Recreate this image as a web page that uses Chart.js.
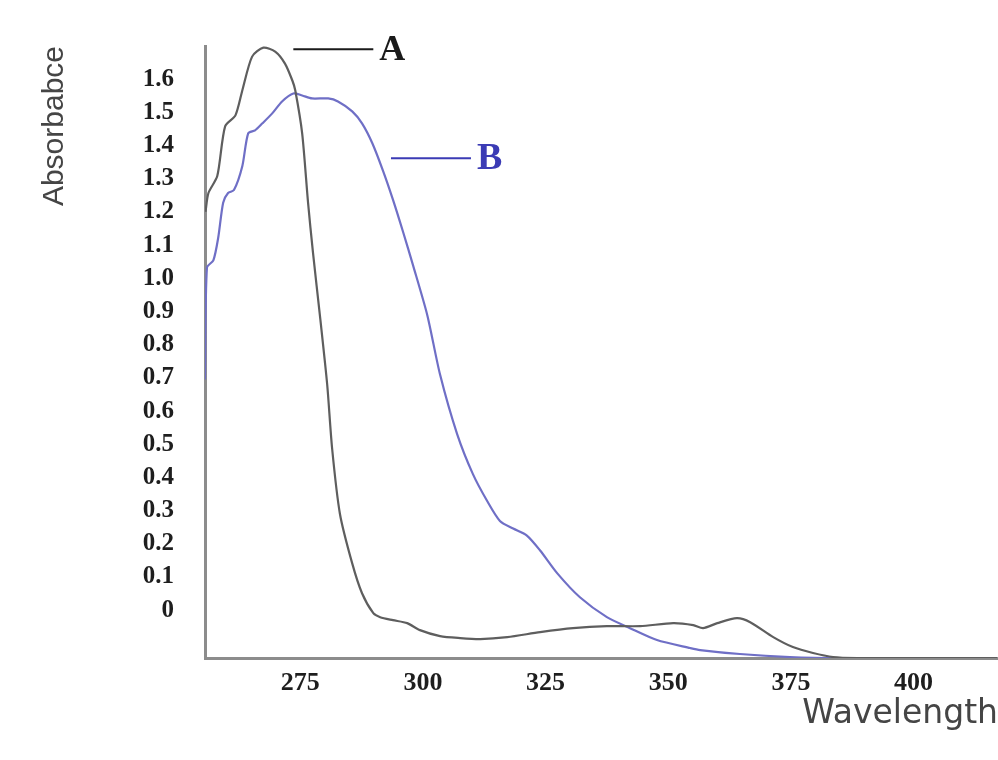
<!DOCTYPE html>
<html lang="en">
<head>
    <meta charset="UTF-8">
    <title>Absorbance spectra A and B</title>
    <style>
        body {
            margin: 0;
            background: #fff;
        }
        .chart-box {
            width: 998px;
            height: 760px;
        }
    </style>
</head>
<body>
    <div class="chart-box">
        <canvas id="spectrum"></canvas>
    </div>

    <script src="https://cdn.jsdelivr.net/npm/chart.js@4.4.1/dist/chart.umd.min.js"></script>
    <script>
        // wavelength (nm) / absorbance
        var wavelengthA = [255.7, 256.3, 258.1, 259.7, 261.8, 263.2, 265.2, 267.5, 269.9, 271.9,
            273.4, 274.0, 275.4, 276.6, 277.6, 279.1, 280.5, 281.5, 283.1, 285.6,
            287.6, 289.9, 291.3, 293.9, 296.8, 299.4, 303.5, 307.6, 311.7, 317.2,
            323.9, 330.6, 337.5, 344.3, 351.0, 355.1, 357.1, 360.0, 364.0, 366.7,
            371.4, 375.4, 379.5, 383.6, 388.5, 398.7, 417.0];
        var absorbanceA = [1.20, 1.257, 1.308, 1.458, 1.491, 1.566, 1.668, 1.695, 1.683, 1.647,
            1.596, 1.566, 1.437, 1.228, 1.078, 0.877, 0.680, 0.488, 0.290, 0.141,
            0.051, -0.009, -0.021, -0.030, -0.039, -0.060, -0.078, -0.084, -0.087, -0.081,
            -0.066, -0.054, -0.048, -0.048, -0.039, -0.045, -0.054, -0.039, -0.024, -0.036,
            -0.081, -0.111, -0.129, -0.141, -0.144, -0.144, -0.144];

        var wavelengthB = [255.6, 256.0, 257.3, 258.3, 259.3, 260.3, 261.5, 263.2, 264.4, 265.8,
            267.3, 269.3, 271.3, 273.6, 275.4, 277.4, 280.7, 282.7, 285.6, 287.6,
            289.7, 291.9, 293.9, 296.0, 298.0, 300.9, 303.5, 307.0, 310.2, 313.1,
            315.7, 318.4, 321.2, 323.9, 327.4, 332.0, 337.5, 342.2, 347.7, 354.5,
            356.5, 364.6, 374.8, 385.0, 417.0];
        var absorbanceB = [0.695, 1.033, 1.054, 1.123, 1.228, 1.257, 1.266, 1.338, 1.437, 1.446,
            1.467, 1.497, 1.533, 1.557, 1.551, 1.542, 1.542, 1.533, 1.503, 1.467,
            1.407, 1.323, 1.237, 1.138, 1.039, 0.889, 0.710, 0.530, 0.410, 0.329,
            0.269, 0.246, 0.225, 0.180, 0.111, 0.039, -0.021, -0.054, -0.090, -0.114,
            -0.120, -0.132, -0.141, -0.144, -0.144];

        var xTicks = [275, 300, 325, 350, 375, 400];
        var yTicks = [0, 0.1, 0.2, 0.3, 0.4, 0.5, 0.6, 0.7, 0.8, 0.9, 1.0, 1.1, 1.2, 1.3, 1.4, 1.5, 1.6];

        // curve labels: leader line from x1 to x2 at absorbance y, letter after it
        var curveLabels = ['A', 'B'];
        var labelX1 = [273.6, 293.5];
        var labelX2 = [289.9, 309.8];
        var labelY = [1.69, 1.362];

        function toPoints(xs, ys) {
            return xs.map(function (x, i) { return { x: x, y: ys[i] }; });
        }

        // draws the "——A" and "——B" markers next to the curves
        var curveLabelPlugin = {
            id: 'curveLabels',
            afterDatasetsDraw: function (chart) {
                var ctx = chart.ctx;
                var xs = chart.scales.x, ys = chart.scales.y;
                var colors = ['#1a1a1a', '#3b3bb5'];
                var sizes = [36, 38];
                ctx.save();
                curveLabels.forEach(function (txt, i) {
                    var x1 = xs.getPixelForValue(labelX1[i]);
                    var x2 = xs.getPixelForValue(labelX2[i]);
                    var y = ys.getPixelForValue(labelY[i]);
                    ctx.strokeStyle = colors[i];
                    ctx.lineWidth = 2;
                    ctx.beginPath();
                    ctx.moveTo(x1, y);
                    ctx.lineTo(x2, y);
                    ctx.stroke();
                    ctx.fillStyle = colors[i];
                    ctx.font = 'bold ' + sizes[i] + 'px "Liberation Serif", serif';
                    ctx.textBaseline = 'middle';
                    ctx.textAlign = 'left';
                    ctx.fillText(txt, x2 + 6, y + 1);
                });
                ctx.restore();
            }
        };

        var ctx = document.getElementById('spectrum').getContext('2d');
        var chart = new Chart(ctx, {
            type: 'line',
            data: {
                datasets: [
                    {
                        label: 'A',
                        data: toPoints(wavelengthA, absorbanceA),
                        borderColor: '#5e5e5e',
                        borderWidth: 2.2,
                        pointRadius: 0,
                        tension: 0.25,
                        fill: false
                    },
                    {
                        label: 'B',
                        data: toPoints(wavelengthB, absorbanceB),
                        borderColor: '#6f6fc6',
                        borderWidth: 2.2,
                        pointRadius: 0,
                        tension: 0.25,
                        fill: false
                    }
                ]
            },
            options: {
                responsive: true,
                maintainAspectRatio: false,
                animation: false,
                layout: { padding: { top: 43, left: 0, right: 0, bottom: 0 } },
                plugins: {
                    legend: { display: false },
                    tooltip: { enabled: false }
                },
                scales: {
                    x: {
                        type: 'linear',
                        min: 255.6,
                        max: 417.2,
                        grid: { display: false, drawTicks: false },
                        border: { display: true, color: '#8c8c8c', width: 3 },
                        afterBuildTicks: function (s) {
                            s.ticks = xTicks.map(function (v) { return { value: v }; });
                        },
                        afterFit: function (s) { s.height = 102; },
                        ticks: {
                            color: '#1e1e1e',
                            padding: 10,
                            maxRotation: 0,
                            autoSkip: false,
                            font: { family: '"Liberation Serif", serif', size: 26, weight: 'bold' },
                            callback: function (v) { return String(v); }
                        },
                        title: {
                            display: true,
                            text: 'Wavelength',
                            align: 'end',
                            color: '#454545',
                            padding: { top: 0, bottom: 26 },
                            font: { family: '"DejaVu Sans", sans-serif', size: 33 }
                        }
                    },
                    y: {
                        type: 'linear',
                        min: -0.144,
                        max: 1.70,
                        grid: { display: false, drawTicks: false },
                        border: { display: true, color: '#8c8c8c', width: 3 },
                        afterBuildTicks: function (s) {
                            s.ticks = yTicks.map(function (v) { return { value: v }; });
                        },
                        afterFit: function (s) { s.width = 205; },
                        ticks: {
                            color: '#1e1e1e',
                            padding: 31,
                            autoSkip: false,
                            font: { family: '"Liberation Serif", serif', size: 25, weight: 'bold' },
                            callback: function (v) { return v === 0 ? '0' : v.toFixed(1); }
                        },
                        title: {
                            display: true,
                            text: 'Absorbabce',
                            align: 'end',
                            color: '#454545',
                            padding: { top: 37, bottom: 0 },
                            font: { family: '"Liberation Sans", Arial, sans-serif', size: 30 }
                        }
                    }
                }
            },
            plugins: [curveLabelPlugin]
        });
    </script>
</body>
</html>
